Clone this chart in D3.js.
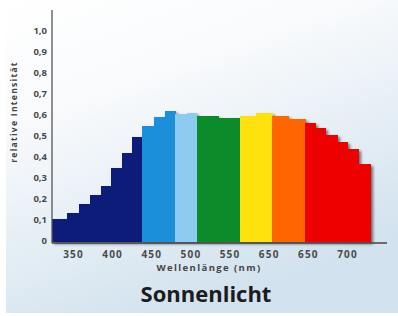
<!DOCTYPE html>
<html>
<head>
<meta charset="utf-8">
<script src="https://cdn.jsdelivr.net/npm/d3@7"></script>
<style>
  body { margin: 0; background: #fff; }
  svg { display: block; }
  text { font-family: "Open Sans", "DejaVu Sans", sans-serif; font-weight: 700; }
</style>
</head>
<body>
<div id="chart"></div>
<script>
// wavelength bin edges (nm), one more than the values
const binEdges = [323, 342, 358, 372, 386, 399, 412, 425, 438, 453, 467, 480, 495, 508, 536, 563, 584, 604, 625, 646, 659, 672, 687, 700, 714, 729];
// relative intensity per bin
const intensities = [0.105, 0.135, 0.18, 0.22, 0.265, 0.35, 0.42, 0.50,
                     0.552, 0.592, 0.622,
                     0.607, 0.613,
                     0.600, 0.588,
                     0.596, 0.610,
                     0.600, 0.584,
                     0.562, 0.540, 0.508, 0.476, 0.440, 0.368];
// colour band of each bin
const bands = ["violet", "violet", "violet", "violet", "violet", "violet", "violet", "violet",
               "blue", "blue", "blue",
               "cyan", "cyan",
               "green", "green",
               "yellow", "yellow",
               "orange", "orange",
               "red", "red", "red", "red", "red", "red"];
const bandNames = ["violet", "blue", "cyan", "green", "yellow", "orange", "red"];
const bandColors = ["#0a1c78", "#1b8fdb", "#8dcbf0", "#0b8a2c", "#ffe10a", "#ff6600", "#ee0000"];

const xTicks = [350, 400, 450, 500, 550, 600, 650, 700];
const xTickLabels = ["350", "400", "450", "500", "550", "650", "650", "700"];
const yTicks = [0, 0.1, 0.2, 0.3, 0.4, 0.5, 0.6, 0.7, 0.8, 0.9, 1.0];
const yTickLabels = ["0", "0,1", "0,2", "0,3", "0,4", "0,5", "0,6", "0,7", "0,8", "0,9", "1,0"];

const width = 398, height = 316;

const svg = d3.select("#chart").append("svg")
    .attr("width", width)
    .attr("height", height);

const defs = svg.append("defs");
const grad = defs.append("linearGradient")
    .attr("id", "bg")
    .attr("x1", "0").attr("y1", "0")
    .attr("x2", "0.45").attr("y2", "1");
grad.append("stop").attr("offset", "0").attr("stop-color", "#ffffff");
grad.append("stop").attr("offset", "0.35").attr("stop-color", "#f8fafc");
grad.append("stop").attr("offset", "1").attr("stop-color", "#d2e2ee");

const shadow = defs.append("filter")
    .attr("id", "shadow")
    .attr("x", "-10%").attr("y", "-10%")
    .attr("width", "130%").attr("height", "130%");
shadow.append("feDropShadow")
    .attr("dx", 2).attr("dy", 2)
    .attr("stdDeviation", 1.6)
    .attr("flood-color", "#000")
    .attr("flood-opacity", 0.55);

svg.append("rect")
    .attr("x", 6).attr("y", 0)
    .attr("width", width - 6).attr("height", height - 3)
    .attr("fill", "url(#bg)");

const xScale = d3.scaleLinear().domain([350, 700]).range([73, 347]);
const yScale = d3.scaleLinear().domain([0, 1]).range([241.5, 31.5]);
const colorScale = d3.scaleOrdinal().domain(bandNames).range(bandColors);

const bins = intensities.map((v, i) => ({
    x0: binEdges[i], x1: binEdges[i + 1], value: v, band: bands[i]
}));

// bars
const barGroup = svg.append("g").attr("filter", "url(#shadow)");
barGroup.selectAll(".bar")
    .data(bins)
    .join("rect")
    .attr("class", "bar")
    .attr("x", d => xScale(d.x0))
    .attr("y", d => yScale(d.value))
    .attr("width", d => xScale(d.x1) - xScale(d.x0) + 0.8)
    .attr("height", d => yScale(0) - yScale(d.value))
    .attr("fill", d => colorScale(d.band))
    .attr("shape-rendering", "crispEdges");

// axis lines
svg.append("line")
    .attr("x1", 52).attr("x2", 52)
    .attr("y1", 10).attr("y2", yScale(0) + 1.5)
    .attr("stroke", "#555").attr("stroke-width", 1.3);
svg.append("line")
    .attr("x1", 52).attr("x2", 387)
    .attr("y1", yScale(0) + 1.5).attr("y2", yScale(0) + 1.5)
    .attr("stroke", "#444").attr("stroke-width", 1.3);

const xAxis = d3.axisBottom(xScale)
    .tickValues(xTicks)
    .tickSize(0)
    .tickPadding(8)
    .tickFormat((d, i) => xTickLabels[i]);

const yAxis = d3.axisLeft(yScale)
    .tickValues(yTicks)
    .tickSize(0)
    .tickPadding(5)
    .tickFormat((d, i) => yTickLabels[i]);

const gx = svg.append("g")
    .attr("transform", `translate(0,${yScale(0) + 1})`)
    .call(xAxis);
gx.select(".domain").remove();
gx.selectAll("text")
    .attr("fill", "#4a4a4a")
    .style("font-size", "10px")
    .style("letter-spacing", "1.2px")
    .style("font-family", "\"Open Sans\", sans-serif");

const gy = svg.append("g")
    .attr("transform", "translate(52,-1.5)")
    .call(yAxis);
gy.select(".domain").remove();
gy.selectAll("text")
    .attr("fill", "#4a4a4a")
    .style("font-size", "9.5px")
    .style("font-family", "\"Open Sans\", sans-serif");

// titles
svg.append("text")
    .attr("transform", "translate(17,112) rotate(-90)")
    .attr("text-anchor", "middle")
    .attr("fill", "#444")
    .style("font-size", "8.5px")
    .style("letter-spacing", "1.3px")
    .text("relative Intensität");

svg.append("text")
    .attr("x", 209)
    .attr("y", 271)
    .attr("text-anchor", "middle")
    .attr("fill", "#444")
    .style("font-size", "9.5px")
    .style("letter-spacing", "1.4px")
    .text("Wellenlänge (nm)");

svg.append("text")
    .attr("x", 206)
    .attr("y", 302)
    .attr("text-anchor", "middle")
    .attr("fill", "#1c1c1c")
    .style("font-size", "22px")
    .text("Sonnenlicht");
</script>
</body>
</html>
